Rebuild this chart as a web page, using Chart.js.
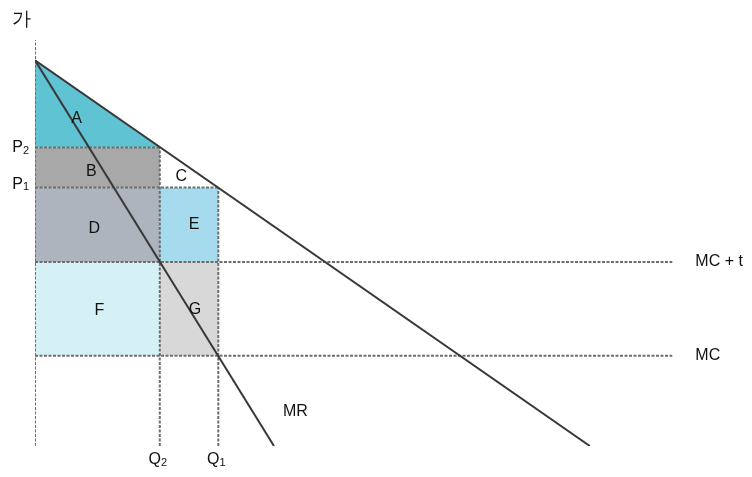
<!DOCTYPE html>
<html>
<head>
<meta charset="utf-8">
<script src="https://cdn.jsdelivr.net/npm/chart.js@4/dist/chart.umd.min.js"></script>
<style>
  html, body { margin: 0; padding: 0; background: #fff; }
  #wrap { width: 752px; height: 477px; }
</style>
</head>
<body>
<div id="wrap"><canvas id="c" width="752" height="477"></canvas></div>
<script>
// ---- data ----
const demandLine   = [[0, 95], [78.7, 0]];     // D
const mrLine       = [[0, 95], [33.9, 0]];     // MR
const costLevels   = [45.3, 22.2];             // MC+t, MC
const costLabels   = ['MC + t', 'MC'];
const costLineEnd  = 90.4;
const priceLevels  = [73.5, 63.7];             // P2, P1
const priceLabels  = [['P', '2'], ['P', '1']];
const quantityLevels = [17.7, 26];             // Q2, Q1
const quantityLabels = [['Q', '2'], ['Q', '1']];
const regionNames  = ['A', 'B', 'C', 'D', 'E', 'F', 'G'];
const axisTitle    = '가';

// ---- styles ----
const regionColors = ['#5fc3d3', '#a8a8a8', '#ffffff', '#adb4bd', '#a6dbed', '#d6f1f6', '#d8d8d8'];
const labelNudge   = [[0, 0], [-6, 4], [2, 2], [-3, 4], [5, 0], [2, 2], [6, 1]];

const [Q2, Q1] = quantityLevels;
const [P2, P1] = priceLevels;
const [MCt, MC] = costLevels;
const pTop = demandLine[0][1];

const regions = [
  [[0, pTop], [Q2, P2], [0, P2]],                      // A
  [[0, P2], [Q2, P2], [Q2, P1], [0, P1]],              // B
  [[Q2, P2], [Q1, P1], [Q2, P1]],                      // C
  [[0, P1], [Q2, P1], [Q2, MCt], [0, MCt]],            // D
  [[Q2, P1], [Q1, P1], [Q1, MCt], [Q2, MCt]],          // E
  [[0, MCt], [Q2, MCt], [Q2, MC], [0, MC]],            // F
  [[Q2, MCt], [Q1, MCt], [Q1, MC], [Q2, MC]]           // G
];

const pts = arr => arr.map(p => ({x: p[0], y: p[1]}));
const solid = (data) => ({ data: pts(data), showLine: true, borderColor: '#383838', borderWidth: 2, pointRadius: 0, fill: false });
const dashed = (data) => ({ data: pts(data), showLine: true, borderColor: '#6e6e6e', borderWidth: 2, borderDash: [3, 1.5], pointRadius: 0, fill: false });

const datasets = [
  solid(demandLine),
  solid(mrLine),
  dashed([[0, 0], [0, 100]]),
  dashed([[0, MCt], [costLineEnd, MCt]]),
  dashed([[0, MC], [costLineEnd, MC]]),
  dashed([[0, P2], [Q2, P2]]),
  dashed([[0, P1], [Q1, P1]]),
  dashed([[Q2, 0], [Q2, P2]]),
  dashed([[Q1, 0], [Q1, P1]])
];
regions.forEach((r, i) => {
  datasets.push({ data: pts(r.concat([r[0]])), showLine: true, borderWidth: 0, borderColor: 'rgba(0,0,0,0)',
    backgroundColor: regionColors[i], pointRadius: 0, fill: 'shape' });
});

const textPlugin = {
  id: 'texts',
  afterDatasetsDraw(chart) {
    const ctx = chart.ctx, xs = chart.scales.x, ys = chart.scales.y;
    ctx.save();
    ctx.fillStyle = '#111';
    ctx.textBaseline = 'middle';
    const font = (s) => s + 'px "Liberation Sans", Arial, sans-serif';
    regions.forEach((r, i) => {
      const cx = r.reduce((a, p) => a + p[0], 0) / r.length;
      const cy = r.reduce((a, p) => a + p[1], 0) / r.length;
      ctx.font = font(16);
      ctx.textAlign = 'center';
      ctx.fillText(regionNames[i], xs.getPixelForValue(cx) + labelNudge[i][0], ys.getPixelForValue(cy) + labelNudge[i][1]);
    });
    const sub = (pair, x, y, align) => {
      ctx.font = font(16);
      const w1 = ctx.measureText(pair[0]).width;
      ctx.font = font(11);
      const w2 = ctx.measureText(pair[1]).width;
      let sx = align === 'right' ? x - w1 - w2 : x - (w1 + w2) / 2;
      ctx.textAlign = 'left';
      ctx.font = font(16);
      ctx.fillText(pair[0], sx, y);
      ctx.font = font(11);
      ctx.fillText(pair[1], sx + w1, y + 3);
    };
    priceLabels.forEach((l, i) => sub(l, xs.getPixelForValue(0) - 6, ys.getPixelForValue(priceLevels[i]) - (i === 1 ? 3 : 0), 'right'));
    quantityLabels.forEach((l, i) => sub(l, xs.getPixelForValue(quantityLevels[i]) - 2, ys.getPixelForValue(0) + 14, 'center'));
    ctx.font = font(16);
    ctx.textAlign = 'left';
    costLabels.forEach((l, i) => ctx.fillText(l, xs.getPixelForValue(costLineEnd) + 23, ys.getPixelForValue(costLevels[i])));
    ctx.fillText('MR', xs.getPixelForValue(mrLine[1][0]) + 9, ys.getPixelForValue(8.5));
    ctx.font = font(19);
    ctx.fillText(axisTitle, 12, 20);
    ctx.restore();
  }
};

new Chart(document.getElementById('c'), {
  type: 'scatter',
  data: { datasets },
  options: {
    responsive: false,
    animation: false,
    devicePixelRatio: 1,
    layout: { padding: { left: 35, right: 12, top: 40, bottom: 31 } },
    plugins: { legend: { display: false }, tooltip: { enabled: false } },
    scales: {
      x: { type: 'linear', min: 0, max: 100, display: false },
      y: { type: 'linear', min: 0, max: 100, display: false }
    }
  },
  plugins: [textPlugin]
});
</script>
</body>
</html>
